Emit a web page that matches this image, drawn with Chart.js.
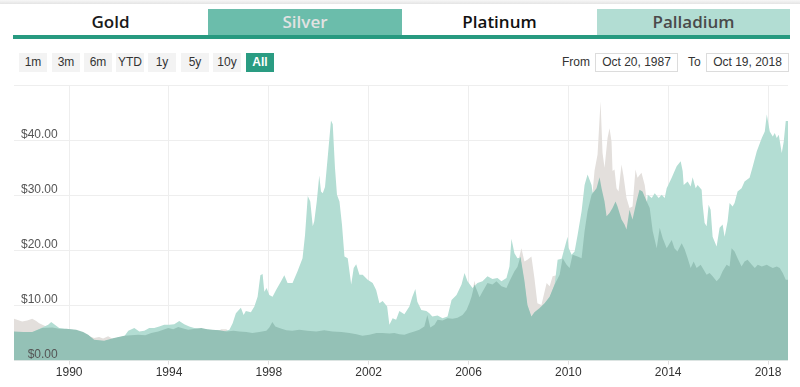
<!DOCTYPE html>
<html>
<head>
<meta charset="utf-8">
<script src="https://cdn.jsdelivr.net/npm/chart.js@4/dist/chart.umd.min.js"></script>
<style>
  html, body { margin: 0; padding: 0; background: #fff; width: 800px; height: 387px; overflow: hidden; }
  body { position: relative; font-family: "Liberation Sans", Arial, sans-serif; }
  .topbar { position: absolute; left: 0; top: 0; width: 800px; height: 4px; background: linear-gradient(#f7f7f7, #e4e4e4); }
  .tab { position: absolute; top: 9px; height: 26px; line-height: 26px; text-align: center;
         font-family: "Open Sans", sans-serif; font-weight: 600; font-size: 17px; color: #1a1a1a; }
  .underline { position: absolute; left: 13px; top: 35px; width: 777px; height: 4px; background: #279a80; }
  .btn { position: absolute; top: 53px; width: 28px; height: 19px; line-height: 19px; text-align: center;
         background: #f3f3f3; color: #333; font-size: 12px; }
  .btn.on { background: #2a9c82; color: #fff; font-weight: bold; }
  .lbl { position: absolute; top: 53px; height: 19px; line-height: 19px; font-size: 12px; color: #333; }
  .box { position: absolute; top: 53px; width: 81px; height: 17px; line-height: 17px; border: 1px solid #dcdcdc;
         text-align: center; font-size: 12px; color: #333; background: #fff; }
  #wrap { position: absolute; left: 0; top: 71px; width: 800px; height: 316px; }
</style>
</head>
<body>
<div class="topbar"></div>
<div id="tabs"></div>
<div class="underline"></div>
<div id="btns"></div>
<div class="lbl" style="left:562px">From</div>
<div class="box" style="left:595px">Oct 20, 1987</div>
<div class="lbl" style="left:688px">To</div>
<div class="box" style="left:706px">Oct 19, 2018</div>
<div id="wrap"><canvas id="c" width="800" height="316"></canvas></div>
<script>
// ---- data (year, price in $) ----
const tabLabels = ["Gold", "Silver", "Platinum", "Palladium"];
const rangeButtons = ["1m", "3m", "6m", "YTD", "1y", "5y", "10y", "All"];
const yearTicks = [1990, 1994, 1998, 2002, 2006, 2010, 2014, 2018];
const priceTicks = [0, 10, 20, 30, 40, 50];

const darkSeries = [
 [1987.79,5.3],[1988.16,5.2],[1988.52,5.2],[1988.92,5.9],[1989.32,6.0],[1989.60,5.8],[1989.88,5.8],
 [1990.28,5.6],[1990.56,5.2],[1990.76,4.7],[1991.00,3.8],[1991.20,3.7],[1991.40,3.6],[1991.80,4.1],
 [1992.21,4.5],[1992.49,4.6],[1992.77,4.7],[1993.05,4.6],[1993.29,5.0],[1993.57,5.3],[1993.77,5.6],
 [1993.97,5.9],[1994.17,5.7],[1994.37,6.1],[1994.61,5.8],[1994.77,5.6],[1995.05,5.8],[1995.29,5.9],
 [1995.53,5.7],[1995.73,5.6],[1996.01,5.5],[1996.30,5.3],[1996.58,5.4],[1996.82,5.3],[1997.10,5.2],
 [1997.34,5.0],[1997.62,5.2],[1997.90,5.4],[1998.02,6.0],[1998.14,7.0],[1998.26,6.2],[1998.42,5.9],
 [1998.70,5.5],[1998.94,5.4],[1999.22,5.6],[1999.54,5.4],[1999.90,5.3],[2000.22,5.5],[2000.55,5.3],
 [2000.91,5.2],[2001.23,5.0],[2001.51,4.8],[2001.75,4.5],[2002.03,4.7],[2002.31,5.0],[2002.55,5.0],
 [2002.83,4.9],[2003.03,5.0],[2003.23,4.8],[2003.43,4.7],[2003.63,5.0],[2003.83,5.3],[2004.03,5.6],
 [2004.23,6.2],[2004.35,8.3],[2004.47,6.0],[2004.64,6.5],[2004.76,7.4],[2004.96,7.3],[2005.16,7.7],
 [2005.36,7.6],[2005.56,7.8],[2005.76,8.3],[2005.92,9.2],[2006.04,10.5],[2006.12,11.6],[2006.24,13.8],
 [2006.36,12.5],[2006.44,11.5],[2006.56,12.5],[2006.76,14.1],[2006.96,13.8],[2007.12,14.4],[2007.32,13.5],
 [2007.52,13.2],[2007.64,14.4],[2007.84,16.2],[2007.96,17.0],[2008.08,18.9],[2008.24,14.5],[2008.36,10.1],
 [2008.52,8.0],[2008.64,8.8],[2008.84,9.5],[2009.05,10.4],[2009.25,11.6],[2009.45,13.8],[2009.65,15.6],
 [2009.77,18.6],[2009.93,17.4],[2010.05,16.8],[2010.17,19.2],[2010.37,18.9],[2010.53,18.6],[2010.65,23.5],
 [2010.77,27.1],[2010.93,30.1],[2011.13,31.3],[2011.25,33.3],[2011.33,31.3],[2011.45,28.9],[2011.53,26.2],
 [2011.65,26.8],[2011.77,27.7],[2011.89,28.9],[2011.97,28.0],[2012.13,25.6],[2012.25,24.7],[2012.33,23.8],
 [2012.45,27.4],[2012.57,25.6],[2012.73,28.9],[2012.85,31.0],[2012.97,30.7],[2013.14,28.9],[2013.26,27.7],
 [2013.38,23.5],[2013.54,20.4],[2013.66,24.1],[2013.78,22.2],[2013.94,20.4],[2014.14,21.9],[2014.25,20.4],
 [2014.37,19.8],[2014.54,21.3],[2014.66,20.2],[2014.78,18.6],[2014.90,16.8],[2015.02,18.0],[2015.14,16.8],
 [2015.30,17.4],[2015.38,16.8],[2015.54,15.6],[2015.66,15.9],[2015.78,15.3],[2015.94,14.4],[2016.06,15.0],
 [2016.18,16.2],[2016.34,17.4],[2016.46,17.1],[2016.54,20.4],[2016.66,19.8],[2016.78,18.6],[2016.94,17.1],
 [2017.06,18.0],[2017.18,18.3],[2017.35,17.4],[2017.47,16.8],[2017.59,17.4],[2017.75,17.1],[2017.95,17.4],
 [2018.07,17.1],[2018.19,16.8],[2018.35,17.1],[2018.47,16.8],[2018.59,15.9],[2018.71,14.7],[2018.80,14.7]
];

const lightSeries = [
 [1987.79,5.1],[1988.52,5.1],[1988.92,6.0],[1989.16,6.5],[1989.28,7.0],[1989.40,6.6],[1989.60,5.9],
 [1989.88,5.7],[1990.28,5.5],[1990.76,4.6],[1991.00,3.7],[1991.40,3.5],[1991.80,4.0],[1992.21,4.4],
 [1992.37,5.4],[1992.61,5.9],[1992.81,5.3],[1993.01,5.4],[1993.21,5.9],[1993.41,5.9],[1993.61,6.2],
 [1993.81,6.5],[1994.01,6.5],[1994.21,6.6],[1994.41,7.2],[1994.61,6.6],[1994.81,6.2],[1995.01,5.9],
 [1995.21,5.8],[1995.53,5.6],[1995.93,5.5],[1996.21,5.3],[1996.42,5.6],[1996.55,6.8],[1996.68,8.6],
 [1996.88,9.6],[1996.99,8.3],[1997.08,9.0],[1997.28,8.8],[1997.42,9.8],[1997.55,11.6],[1997.66,15.5],
 [1997.75,15.7],[1997.82,12.5],[1997.91,13.2],[1998.02,11.9],[1998.15,11.6],[1998.29,12.8],[1998.49,14.4],
 [1998.62,15.5],[1998.75,14.1],[1998.95,14.1],[1999.15,16.2],[1999.35,18.6],[1999.45,22.8],[1999.56,29.9],
 [1999.66,28.9],[1999.76,24.4],[1999.82,25.3],[1999.92,28.9],[2000.02,33.6],[2000.09,30.7],[2000.16,30.4],
 [2000.25,31.5],[2000.38,38.0],[2000.49,43.6],[2000.56,42.9],[2000.65,35.0],[2000.73,30.1],[2000.83,28.9],
 [2000.93,24.7],[2001.03,18.9],[2001.16,18.6],[2001.30,13.8],[2001.40,16.8],[2001.50,17.5],[2001.63,15.6],
 [2001.76,15.6],[2001.96,14.7],[2002.16,14.1],[2002.30,12.8],[2002.43,10.4],[2002.56,10.8],[2002.74,9.8],
 [2002.83,6.5],[2002.96,7.7],[2003.10,7.4],[2003.23,9.0],[2003.43,8.4],[2003.63,9.8],[2003.75,11.6],
 [2003.87,13.0],[2003.95,10.7],[2004.11,9.2],[2004.31,9.0],[2004.43,8.6],[2004.55,8.0],[2004.76,8.2],
 [2004.96,7.7],[2005.16,8.0],[2005.32,11.0],[2005.52,11.9],[2005.72,13.8],[2005.84,15.9],[2005.96,14.4],
 [2006.16,13.2],[2006.36,14.1],[2006.56,14.4],[2006.76,15.3],[2006.96,14.8],[2007.16,15.0],[2007.32,14.4],
 [2007.52,15.0],[2007.64,17.1],[2007.72,22.1],[2007.84,19.5],[2007.96,18.6],[2008.08,18.7],[2008.24,14.0],
 [2008.36,10.0],[2008.52,7.9],[2008.84,9.3],[2009.25,11.5],[2009.45,13.8],[2009.57,18.3],[2009.73,18.5],
 [2009.97,22.5],[2010.01,20.5],[2010.13,19.2],[2010.25,19.8],[2010.37,22.8],[2010.53,27.1],[2010.65,31.9],
 [2010.77,33.8],[2010.93,31.9],[2010.97,30.5],[2011.13,30.5],[2011.45,28.0],[2011.53,25.5],[2011.65,26.0],
 [2012.05,25.0],[2012.33,23.5],[2012.65,26.0],[2012.97,29.5],[2013.14,28.5],[2013.18,30.1],[2013.34,29.5],
 [2013.46,30.4],[2013.62,29.5],[2013.74,30.1],[2013.86,29.5],[2013.94,31.3],[2014.14,33.2],[2014.34,35.3],
 [2014.50,36.2],[2014.58,34.4],[2014.62,31.9],[2014.78,32.5],[2014.90,31.6],[2014.98,33.3],[2015.10,31.3],
 [2015.18,31.9],[2015.34,31.0],[2015.38,28.3],[2015.46,25.0],[2015.54,24.4],[2015.62,28.3],[2015.70,27.4],
 [2015.78,22.5],[2015.94,20.7],[2016.06,24.1],[2016.18,24.7],[2016.26,22.5],[2016.38,25.3],[2016.46,28.6],
 [2016.58,28.0],[2016.66,28.6],[2016.78,30.7],[2016.94,31.3],[2017.06,32.5],[2017.26,33.2],[2017.39,35.3],
 [2017.55,38.0],[2017.75,40.4],[2017.87,41.6],[2017.95,44.7],[2018.07,41.6],[2018.19,40.7],[2018.27,41.3],
 [2018.35,40.4],[2018.43,41.0],[2018.55,37.7],[2018.63,39.8],[2018.71,43.5],[2018.80,43.5]
];

const graySeries = [
 [1987.79,7.6],[1988.12,7.1],[1988.32,7.3],[1988.52,7.6],[1988.68,7.2],[1988.80,6.8],[1989.08,6.2],
 [1989.32,5.8],[1989.88,5.5],[1990.56,5.0],[1990.76,4.5],[1991.00,4.1],[1991.20,4.3],[1991.36,4.0],
 [1991.56,4.4],[1991.72,4.0],[1992.21,4.0],[1993.05,4.0],[1993.97,5.3],[1995.05,5.2],[1995.93,5.2],
 [1996.09,5.7],[1996.30,5.7],[1996.42,5.0],[1997.00,5.0],[1997.90,5.2],[1998.14,6.5],[1998.40,5.5],
 [2000.00,5.0],[2001.50,4.5],[2002.00,4.4],[2004.00,5.0],[2004.35,7.0],[2004.50,5.8],[2005.50,7.3],
 [2006.00,9.0],[2006.24,14.5],[2006.36,12.0],[2007.00,13.0],[2007.50,13.0],[2007.84,15.5],[2007.96,17.5],
 [2008.12,20.4],[2008.24,18.0],[2008.36,18.3],[2008.52,18.9],[2008.64,15.0],[2008.76,10.4],[2008.92,10.1],
 [2009.13,14.1],[2009.25,13.5],[2009.37,15.3],[2009.53,15.5],[2009.65,15.0],[2010.00,16.5],[2010.50,18.0],
 [2010.80,26.0],[2010.97,30.5],[2011.05,34.5],[2011.17,37.4],[2011.29,47.1],[2011.37,37.7],[2011.45,35.0],
 [2011.57,40.4],[2011.65,42.2],[2011.73,39.8],[2011.77,34.4],[2011.85,34.7],[2011.93,31.3],[2012.01,30.7],
 [2012.13,35.6],[2012.21,33.5],[2012.33,29.5],[2012.45,27.7],[2012.57,28.0],[2012.69,34.7],[2012.77,33.2],
 [2012.93,34.1],[2013.06,31.9],[2013.14,29.0],[2013.26,26.0],[2013.50,20.0],[2014.00,20.0],[2015.00,16.0],
 [2016.00,14.0],[2017.00,16.5],[2018.00,16.5],[2018.80,14.0]
];

// ---- header (HTML) ----
const tabStyles = [
  {left: 13, width: 195, bg: "#ffffff", color: "#1a1a1a"},
  {left: 208, width: 194, bg: "#6bbdab", color: "#e2e2e2"},
  {left: 402, width: 195, bg: "#ffffff", color: "#111111"},
  {left: 597, width: 193, bg: "#b2ddd3", color: "#4a4a4a"}
];
const tabsEl = document.getElementById("tabs");
tabLabels.forEach((t, i) => {
  const d = document.createElement("div");
  d.className = "tab";
  const s = tabStyles[i];
  d.style.left = s.left + "px"; d.style.width = s.width + "px";
  d.style.background = s.bg; d.style.color = s.color;
  d.textContent = t;
  tabsEl.appendChild(d);
});
const btnLefts = [19, 52, 84, 116, 148, 181, 213, 246];
const btnsEl = document.getElementById("btns");
rangeButtons.forEach((b, i) => {
  const d = document.createElement("div");
  d.className = "btn" + (b === "All" ? " on" : "");
  d.style.left = btnLefts[i] + "px";
  d.textContent = b;
  btnsEl.appendChild(d);
});

// ---- chart ----
const toPts = s => s.map(p => ({x: p[0], y: p[1]}));
const ds = (series, color, order) => ({
  data: toPts(series), backgroundColor: color, borderWidth: 0, borderColor: color,
  pointRadius: 0, fill: "origin", tension: 0, order: order
});

new Chart(document.getElementById("c"), {
  type: "line",
  data: {
    datasets: [
      ds(darkSeries, "#94c1b6", 1),
      ds(lightSeries, "#b3ddd3", 2),
      ds(graySeries, "#e3dfdc", 3)
    ]
  },
  options: {
    responsive: false,
    animation: false,
    events: [],
    layout: { padding: { left: 0, right: 12, top: 2, bottom: 6 } },
    plugins: { legend: { display: false }, tooltip: { enabled: false } },
    scales: {
      x: {
        type: "linear",
        min: 1987.79, max: 2018.8,
        afterBuildTicks: sc => { sc.ticks = yearTicks.map(v => ({value: v})); },
        ticks: {
          callback: v => String(v), color: "#333", autoSkip: false, maxRotation: 0,
          padding: 1, font: { family: "Liberation Sans", size: 12 }
        },
        grid: { color: "#eeeeee", tickLength: 4, tickColor: "#e0e0e0" },
        border: { display: false }
      },
      y: {
        min: 0, max: 50,
        afterBuildTicks: sc => { sc.ticks = priceTicks.map(v => ({value: v})); },
        ticks: {
          mirror: true, crossAlign: "far", padding: 7, labelOffset: -6, z: 1,
          color: "#555", font: { family: "Liberation Sans", size: 12 },
          callback: v => v === 50 ? "" : "$" + Number(v).toFixed(2)
        },
        grid: { color: "#eeeeee", drawTicks: false },
        border: { display: false }
      }
    }
  }
});
</script>
</body>
</html>
